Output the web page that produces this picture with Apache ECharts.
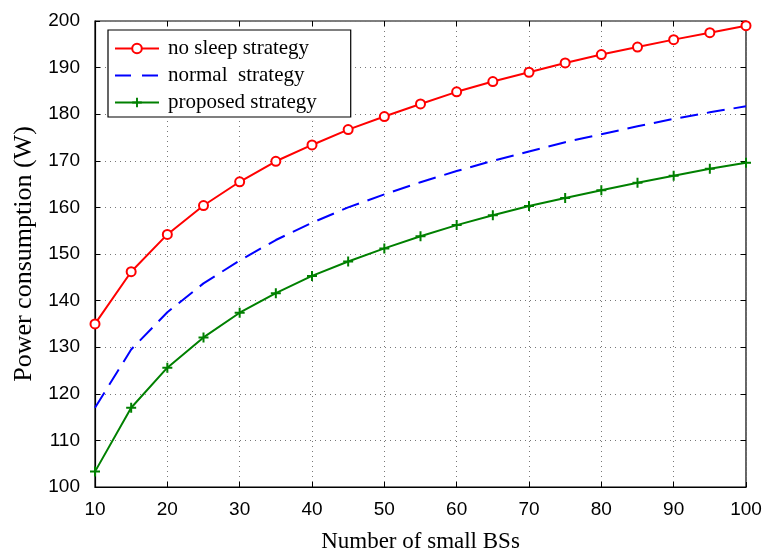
<!DOCTYPE html>
<html>
<head>
<meta charset="utf-8">
<script src="https://cdn.jsdelivr.net/npm/echarts@6/dist/echarts.min.js"></script>
<style>
  html, body { margin: 0; padding: 0; background: #fff; }
  #main { width: 771px; height: 553px; }
</style>
</head>
<body>
<div id="main"></div>
<script>
// number of small BSs
var xValues = [10, 15, 20, 25, 30, 35, 40, 45, 50, 55, 60, 65, 70, 75, 80, 85, 90, 95, 100];
var noSleep = [135, 146.2, 154.2, 160.4, 165.5, 169.9, 173.4, 176.7, 179.5, 182.2, 184.8, 187, 189, 191, 192.8, 194.4, 196, 197.5, 199];
var normal = [117, 129.5, 137.5, 143.7, 148.6, 153, 156.7, 160, 162.8, 165.4, 167.8, 170, 172, 174, 175.7, 177.4, 179, 180.4, 181.7];
var proposed = [103.3, 117, 125.6, 132.1, 137.4, 141.6, 145.3, 148.4, 151.2, 153.8, 156.2, 158.3, 160.3, 162, 163.7, 165.3, 166.8, 168.3, 169.6];
var seriesNames = ['no sleep strategy', 'normal  strategy', 'proposed strategy'];

function pairs(ys) {
    return xValues.map(function (x, i) { return [x, ys[i]]; });
}

var plusPath = 'path://M4,0 L6,0 L6,4 L10,4 L10,6 L6,6 L6,10 L4,10 L4,6 L0,6 L0,4 L4,4 Z';
var serif = '"Liberation Serif", "DejaVu Serif", serif';
var sans = '"Liberation Sans", Arial, sans-serif';

var myChart = echarts.init(document.getElementById('main'));

var dotted = { show: true, lineStyle: { color: '#777', type: [1, 4], width: 1 } };

var option = {
    animation: false,
    grid: {
        left: 95, right: 25, top: 21, bottom: 66,
        outerBoundsMode: 'none',
        show: true, borderColor: '#000', borderWidth: 1.2
    },
    legend: {
        left: 108, top: 30,
        orient: 'vertical',
        itemWidth: 44, itemHeight: 12, itemGap: 6,
        padding: [8, 34, 4, 6],
        borderColor: '#000', borderWidth: 1.2,
        backgroundColor: '#fff',
        textStyle: { fontFamily: serif, fontSize: 21, color: '#000', padding: [0, 0, 0, 4] },
        data: [
            seriesNames[0],
            { name: seriesNames[1], itemStyle: { opacity: 0 }, lineStyle: { type: [16, 11] } },
            seriesNames[2]
        ]
    },
    xAxis: [{
        type: 'value', min: 10, max: 100, interval: 10,
        name: 'Number of small BSs', nameLocation: 'middle', nameGap: 43,
        nameTextStyle: { fontFamily: serif, fontSize: 23, color: '#000' },
        axisLine: { lineStyle: { color: '#000', width: 1.2 } },
        axisTick: { inside: true, length: 5, lineStyle: { color: '#000' } },
        axisLabel: { fontFamily: sans, fontSize: 19, color: '#000', margin: 13 },
        splitLine: dotted
    }, {
        type: 'value', min: 10, max: 100, interval: 10, position: 'top',
        axisLine: { show: false },
        axisTick: { inside: true, length: 5, lineStyle: { color: '#000' } },
        axisLabel: { show: false }, splitLine: { show: false }
    }],
    yAxis: [{
        type: 'value', min: 100, max: 200, interval: 10,
        name: 'Power consumption (W)', nameLocation: 'middle', nameGap: 55,
        nameTextStyle: { fontFamily: serif, fontSize: 26, color: '#000' },
        axisLine: { show: true, lineStyle: { color: '#000', width: 1.2 } },
        axisTick: { show: true, inside: true, length: 5, lineStyle: { color: '#000' } },
        axisLabel: { fontFamily: sans, fontSize: 19, color: '#000', margin: 15 },
        splitLine: dotted
    }, {
        type: 'value', min: 100, max: 200, interval: 10, position: 'right',
        axisLine: { show: false },
        axisTick: { show: true, inside: true, length: 5, lineStyle: { color: '#000' } },
        axisLabel: { show: false }, splitLine: { show: false }
    }],
    series: [{
        name: seriesNames[0],
        type: 'line',
        data: pairs(noSleep),
        symbol: 'emptyCircle', symbolSize: 9,
        color: '#ff0000',
        lineStyle: { color: '#ff0000', width: 2 },
        itemStyle: { color: '#ff0000', borderColor: '#ff0000', borderWidth: 1.6 },
        z: 3
    }, {
        name: seriesNames[1],
        type: 'line',
        data: pairs(normal),
        symbol: 'none',
        color: '#0000ff',
        lineStyle: { color: '#0000ff', width: 2, type: [18, 9] },
        z: 2
    }, {
        name: seriesNames[2],
        type: 'line',
        data: pairs(proposed),
        symbol: plusPath, symbolSize: 10,
        color: '#008000',
        lineStyle: { color: '#008000', width: 2 },
        itemStyle: { color: '#008000' },
        z: 3
    }]
};

myChart.setOption(option);
</script>
</body>
</html>
